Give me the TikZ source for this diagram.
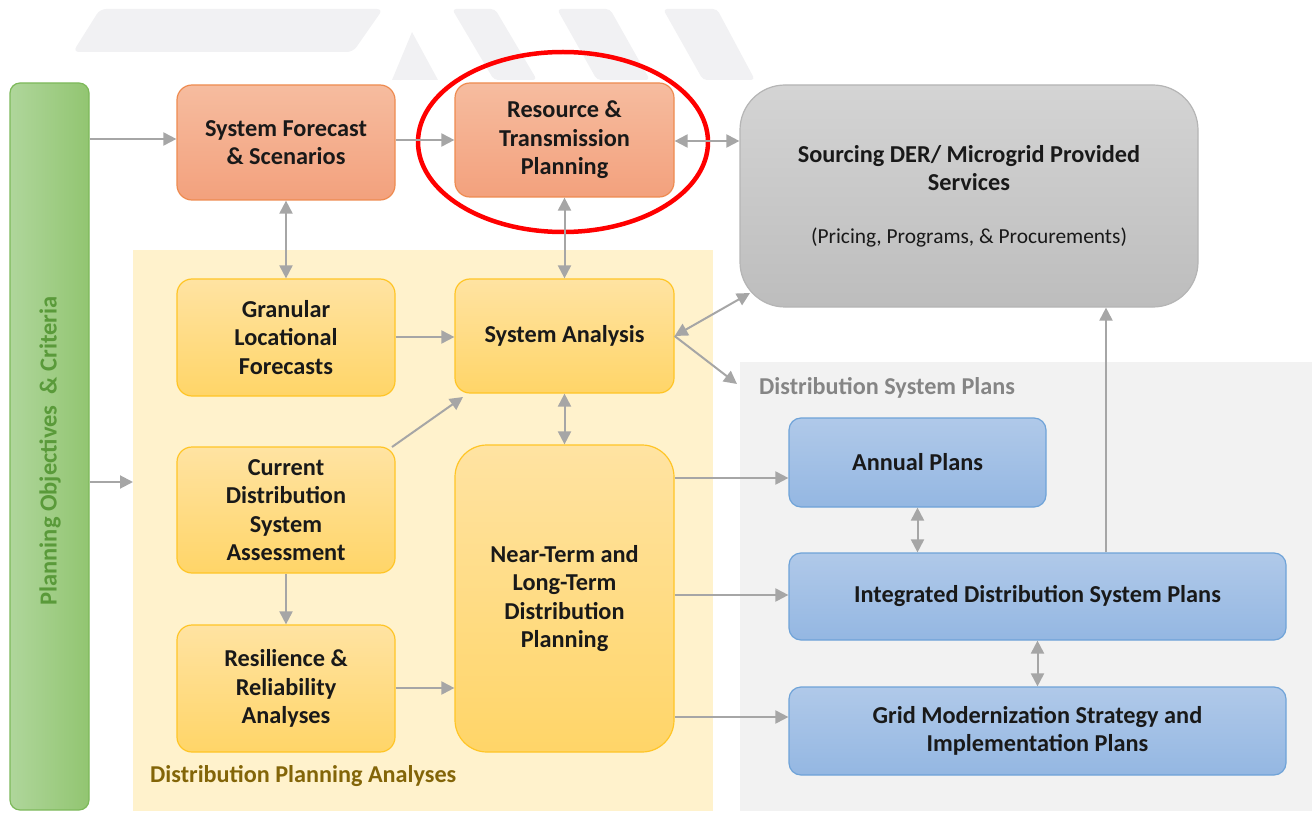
\documentclass[tikz,border=0pt]{standalone}
\usepackage{fontspec}
\setmainfont{Carlito}
\usetikzlibrary{arrows.meta,shapes.geometric}
\definecolor{orT}{HTML}{F6BC9F}
\definecolor{orB}{HTML}{F3A17D}
\definecolor{orD}{HTML}{EE8B50}
\definecolor{yeT}{HTML}{FFE3A2}
\definecolor{yeB}{HTML}{FFD568}
\definecolor{yeD}{HTML}{FFC526}
\definecolor{blT}{HTML}{B0C9E9}
\definecolor{blB}{HTML}{94B7E2}
\definecolor{blD}{HTML}{6FA3D8}
\definecolor{grT}{HTML}{D4D4D4}
\definecolor{grB}{HTML}{BDBDBD}
\definecolor{grD}{HTML}{B5B5B5}
\definecolor{gnL}{HTML}{AFD69B}
\definecolor{gnR}{HTML}{92C571}
\definecolor{gnD}{HTML}{7DB95A}
\definecolor{gnText}{HTML}{5A9A3A}
\definecolor{yeBg}{HTML}{FFF2CC}
\definecolor{grBg}{HTML}{F2F2F2}
\definecolor{wm}{HTML}{F1F1F3}
\definecolor{arrgray}{HTML}{A6A6A6}
\definecolor{dpaText}{HTML}{836508}
\definecolor{dspText}{HTML}{858585}
\newcommand{\boxfont}{\bfseries\fontsize{24.3}{28.5}\selectfont}
\tikzset{
  box/.style={draw, line width=1.2pt, rounded corners=15pt, align=center,
    inner sep=0pt, font=\boxfont, text=black!90},
  orbox/.style={box, draw=orD, top color=orT, bottom color=orB},
  yebox/.style={box, draw=yeD, top color=yeT, bottom color=yeB},
  blbox/.style={box, draw=blD, top color=blT, bottom color=blB, rounded corners=12pt},
  arr/.style={draw=arrgray, line width=2pt, -{Triangle[length=13pt,width=13pt]}},
  darr/.style={draw=arrgray, line width=2pt, {Triangle[length=13pt,width=13pt]}-{Triangle[length=13pt,width=13pt]}},
  regionlabel/.style={font=\bfseries\fontsize{24.2}{28}\selectfont, anchor=west, inner sep=0pt}
}
\begin{document}
\begin{tikzpicture}[x=1pt,y=-1pt]
\useasboundingbox (0,0) rectangle (1312,813);
% backgrounds
\fill[yeBg] (133,250) rectangle (713,811);
\fill[grBg] (740,362) rectangle (1312,811);
% watermark
\fill[wm, rounded corners=6pt] (100,9) -- (383,9) -- (353,52) -- (73,52) -- cycle;
\fill[wm] (392,80) -- (412,32) -- (438,80) -- cycle;
\fill[wm, rounded corners=4pt] (452,9) -- (495,9) -- (537,80) -- (494,80) -- cycle;
\fill[wm, rounded corners=4pt] (557,9) -- (610,9) -- (650,80) -- (597,80) -- cycle;
\fill[wm, rounded corners=4pt] (663,9) -- (717,9) -- (755,80) -- (703,80) -- cycle;
% left bar
\node[draw=gnD, line width=1.2pt, rounded corners=10pt, left color=gnL, right color=gnR,
  minimum width=79pt, minimum height=727pt, inner sep=0pt] (gb) at (49.5,446.5) {};
\node[rotate=90, text=gnText, font=\bfseries\fontsize{24.5}{28}\selectfont] (gbt) at (50,451)
  {Planning Objectives\ \ \& Criteria};
% top row
\node[orbox, minimum width=218pt, minimum height=115pt] (sf) at (286,142.5)
  {System Forecast\\\& Scenarios};
\node[orbox, minimum width=219pt, minimum height=114pt] (rt) at (564.5,140)
  {Resource \&\\Transmission\\Planning};
\node[box, draw=grD, top color=grT, bottom color=grB, rounded corners=45pt,
  minimum width=458pt, minimum height=222pt] (src) at (969,196)
  {Sourcing DER/ Microgrid Provided\\Services\\[24pt]{\mdseries\fontsize{21.4}{26}\selectfont(Pricing, Programs, \& Procurements)}};
% red highlight
\node[draw=red, line width=4.5pt, ellipse, minimum width=290pt, minimum height=180pt] (hl) at (563,142) {};
% analyses
\node[yebox, minimum width=218pt, minimum height=117pt] (glf) at (286,337.5)
  {Granular\\Locational\\Forecasts};
\node[yebox, minimum width=219pt, minimum height=114pt] (sa) at (564.5,336)
  {System Analysis};
\node[yebox, minimum width=218pt, minimum height=126pt] (cdsa) at (286,510)
  {Current\\Distribution\\System\\Assessment};
\node[yebox, minimum width=218pt, minimum height=127pt] (rra) at (286,688.5)
  {Resilience \&\\Reliability\\Analyses};
\node[yebox, rounded corners=32pt, minimum width=219pt, minimum height=307pt] (ntl) at (564.5,598.5)
  {Near-Term and\\Long-Term\\Distribution\\Planning};
\node[regionlabel, text=dpaText] (dpal) at (150,776) {Distribution Planning Analyses};
% plans
\node[regionlabel, text=dspText] (dspl) at (759,388) {Distribution System Plans};
\node[blbox, minimum width=257pt, minimum height=89pt] (ap) at (917.5,462.5) {Annual Plans};
\node[blbox, minimum width=497pt, minimum height=87pt] (idsp) at (1037.5,596.5)
  {Integrated Distribution System Plans};
\node[blbox, minimum width=497pt, minimum height=88pt] (gms) at (1037.5,731)
  {Grid Modernization Strategy and\\Implementation Plans};
% connectors
\coordinate (yin) at (133,482);
\coordinate (dspin) at (737,384);
\coordinate (cfrom) at (392,447);
\coordinate (cto) at (463,397);
\coordinate (srcll) at (750,293);
\draw[arr] (gb.east |- 0,139) -- (sf.west |- 0,139);
\draw[arr] (sf.east |- 0,140) -- (rt.west |- 0,140);
\draw[darr] (rt.east |- 0,141) -- (src.west |- 0,141);
\draw[darr] (sf.south) -- (glf.north);
\draw[darr] (rt.south) -- (sa.north);
\draw[arr] (glf.east |- 0,337) -- (sa.west |- 0,337);
\draw[arr] (cfrom) -- (cto);
\draw[darr] (sa.east) -- (srcll);
\draw[arr] (sa.east) -- (dspin);
\draw[darr] (sa.south) -- (ntl.north);
\draw[arr] (gb.east |- yin) -- (yin);
\draw[arr] (cdsa.south) -- (rra.north);
\draw[arr] (rra.east |- 0,688) -- (ntl.west |- 0,688);
\draw[arr] (ntl.east |- 0,478) -- (ap.west |- 0,478);
\draw[arr] (ntl.east |- 0,595) -- (idsp.west |- 0,595);
\draw[arr] (ntl.east |- 0,717) -- (gms.west |- 0,717);
\draw[darr] (ap.south) -- (ap.south |- idsp.north);
\draw[arr] (idsp.north -| 1106,0) -- (src.south -| 1106,0);
\draw[darr] (idsp.south) -- (gms.north);
\end{tikzpicture}
\end{document}
